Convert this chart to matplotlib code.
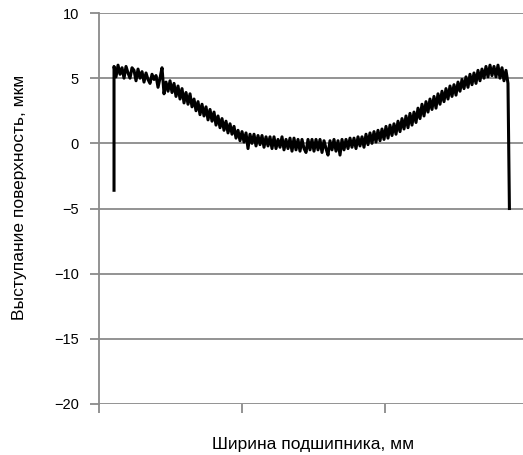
import numpy as np
import matplotlib
matplotlib.use("Agg")
import matplotlib.pyplot as plt
from matplotlib import font_manager

# Surface profile across the bearing width, micrometres
profile = [
    5.9, 5.1, 6.0, 5.3, 5.8, 5.0, 5.9, 5.4, 5.0, 5.8,
    5.6, 4.8, 5.7, 5.0, 5.5, 4.7, 5.4, 4.9, 4.6, 5.3,
    4.9, 5.2, 4.3, 5.0, 5.8, 3.8, 4.7, 4.0, 4.8, 3.9,
    4.6, 3.6, 4.4, 3.4, 4.2, 3.1, 3.9, 3.0, 3.8, 2.8,
    3.4, 2.5, 3.2, 2.2, 3.0, 2.1, 2.8, 1.8, 2.6, 1.7,
    2.4, 1.4, 2.1, 1.2, 1.9, 1.0, 1.7, 0.8, 1.5, 0.7,
    1.3, 0.4, 1.0, 0.2, 0.9, 0.1, 0.8, -0.4, 0.7, 0.0,
    0.7, -0.2, 0.6, -0.1, 0.6, -0.3, 0.5, -0.2, 0.5, -0.4,
    0.5, -0.4, 0.3, -0.3, 0.5, -0.5, 0.3, -0.4, 0.4, -0.6,
    0.4, -0.5, 0.3, -0.6, 0.3, -0.4, -0.7, 0.3, -0.5, 0.3,
    -0.6, 0.3, -0.5, 0.3, -0.7, 0.2, -0.4, -0.9, 0.2, -0.5,
    0.3, -0.6, 0.2, -0.9, 0.3, -0.5, 0.3, -0.4, 0.4, -0.3,
    0.4, -0.4, 0.5, -0.2, 0.5, -0.3, 0.7, -0.1, 0.8, 0.0,
    0.9, 0.1, 1.0, 0.2, 1.1, 0.3, 1.3, 0.4, 1.4, 0.6,
    1.5, 0.7, 1.7, 0.9, 1.9, 1.1, 2.1, 1.2, 2.3, 1.4,
    2.4, 1.6, 2.7, 1.9, 3.0, 2.1, 3.2, 2.4, 3.4, 2.6,
    3.6, 2.7, 3.8, 3.0, 4.0, 3.2, 4.2, 3.4, 4.4, 3.6,
    4.5, 3.7, 4.7, 4.0, 4.9, 4.2, 5.1, 4.3, 5.3, 4.5,
    5.4, 4.6, 5.6, 4.8, 5.7, 5.0, 5.9, 5.1, 6.0, 5.2,
    5.9, 5.1, 6.0, 5.0, 5.8, 4.8, 5.6, 4.6,
]
edge_left = -3.6    # drop at the left edge of the bearing
edge_right = -5.0   # drop at the right edge
x_start, x_end = 0.105, 2.86

y_ticks = [-20, -15, -10, -5, 0, 5, 10]
x_ticks = [0, 1, 2]

# condensed face if available
names = {f.name for f in font_manager.fontManager.ttflist}
family = "Liberation Sans Narrow" if "Liberation Sans Narrow" in names else "Liberation Sans"
plt.rcParams["font.family"] = [family, "DejaVu Sans"]

x = np.linspace(x_start, x_end, len(profile))
xs = np.concatenate([[x[0]], x, [x[-1] + 0.01]])
ys = np.concatenate([[edge_left], profile, [edge_right]])

fig = plt.figure(figsize=(5.23, 4.55), dpi=100)
ax = fig.add_axes([0.1893, 0.1121, 0.8107, 0.8593])

grid_c = "#8a8a8a"
for v in y_ticks:
    ax.axhline(v, color=grid_c, lw=1.3, zorder=1)

ax.plot(xs, ys, color="black", lw=2.2, zorder=3)

ax.set_xlim(0, 2.965)
ax.set_ylim(-20, 10)
ax.set_yticks(y_ticks)
ax.set_yticklabels([str(v).replace("-", "\u2212") for v in y_ticks])
ax.set_xticks(x_ticks)
ax.set_xticklabels([])

for s in ["top", "right", "bottom"]:
    ax.spines[s].set_visible(False)
ax.spines["left"].set_color(grid_c)
ax.spines["left"].set_linewidth(1.3)
ax.tick_params(axis="y", length=6.5, width=1.3, color=grid_c, pad=8, labelsize=10.5)
ax.tick_params(axis="x", length=6.5, width=1.3, color=grid_c)

ax.set_ylabel("Выступание поверхность, мкм", fontsize=12.5)
ax.set_xlabel("Ширина подшипника, мм", fontsize=12.5)
ax.yaxis.set_label_coords(-0.17, 0.529)
ax.xaxis.set_label_coords(0.505, -0.084)

fig.savefig("out.png", dpi=100)
